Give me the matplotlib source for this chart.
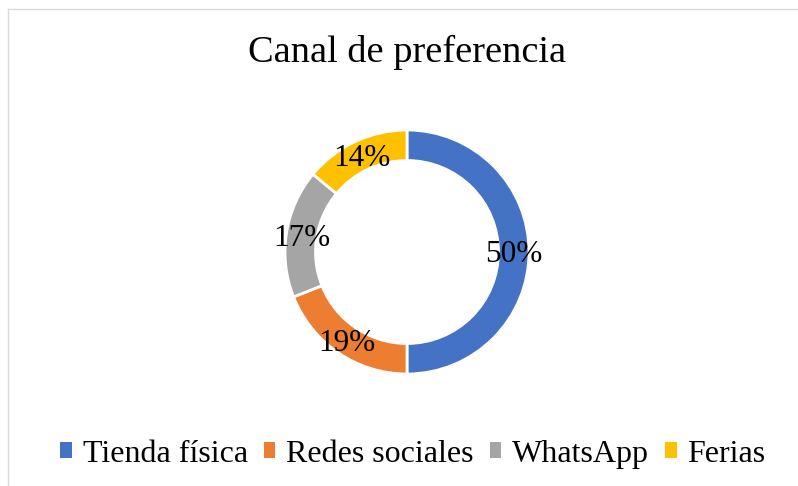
import matplotlib
matplotlib.use("Agg")
import matplotlib.pyplot as plt
from matplotlib.lines import Line2D
from matplotlib.transforms import offset_copy

canales = ["Tienda física", "Redes sociales", "WhatsApp", "Ferias"]
valores = [50, 19, 17, 14]
colores = ["#4472C4", "#ED7D31", "#A5A5A5", "#FFC000"]

plt.rcParams["font.family"] = ["Liberation Serif", "DejaVu Serif"]

W, H = 798, 486
fig = plt.figure(figsize=(W / 100, H / 100), dpi=100)

# donut centred at (407, 252) px, radius 122 px
cx, cy, r = 407, 252, 122
ax = fig.add_axes([(cx - r) / W, (H - cy - r) / H, 2 * r / W, 2 * r / H])
wedges, textos, pcts = ax.pie(valores, colors=colores, startangle=90, counterclock=False,
                              radius=1, autopct="%1.0f%%", pctdistance=0.875,
                              wedgeprops=dict(width=0.25, edgecolor="white", linewidth=2),
                              textprops=dict(fontsize=22.5, color="black"))
for t in pcts:
    t.set_transform(offset_copy(ax.transData, fig=fig, x=0, y=-3, units="dots"))
ax.set_xlim(-1, 1)
ax.set_ylim(-1, 1)
ax.set_aspect("equal")
ax.axis("off")

fig.text(cx / W, 1 - 52 / H, "Canal de preferencia", ha="center", va="center", fontsize=27.6)

# legend squares without the white wedge edge
handles = [plt.Rectangle((0, 0), 1, 1, facecolor=c, edgecolor="none") for c in colores]
fig.legend(handles, canales, loc="center", bbox_to_anchor=(413 / W, 1 - 454 / H), ncol=4,
           frameon=False, fontsize=23, handlelength=0.36, handleheight=0.38,
           handletextpad=0.34, columnspacing=0.5, borderpad=0, borderaxespad=0)

# light border (top and left edges only, the rest is cropped)
fig.add_artist(Line2D([8 / W, 8 / W], [0, 1 - 9 / H], transform=fig.transFigure, color="#D9D9D9", lw=1))
fig.add_artist(Line2D([8 / W, 1], [1 - 9 / H, 1 - 9 / H], transform=fig.transFigure, color="#D9D9D9", lw=1))

fig.savefig("out.png", dpi=100)
